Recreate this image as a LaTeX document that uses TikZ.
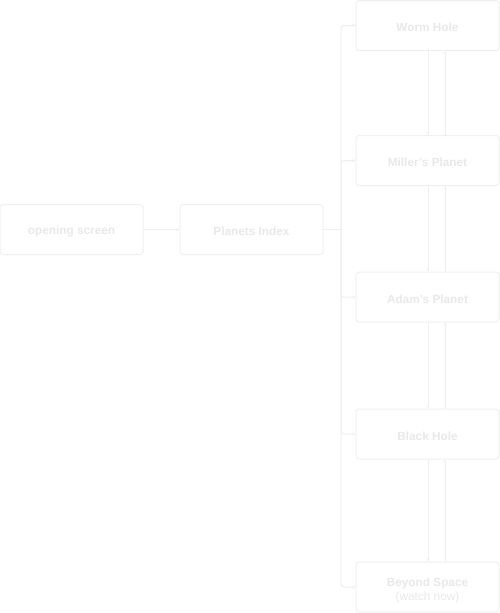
\documentclass[tikz,border=0pt]{standalone}
\usepackage{fontspec}
\setmainfont{Liberation Sans}
\usetikzlibrary{arrows.meta}
\definecolor{linec}{HTML}{EFEFEF}
\definecolor{textc}{HTML}{E8E8E8}
\begin{document}
\begin{tikzpicture}[x=1pt,y=-1pt,
  box/.style={draw=linec,line width=1pt,rounded corners=3pt,minimum width=143pt,minimum height=50pt,inner sep=0pt,align=center,text=textc,font=\fontsize{11.8pt}{14pt}\selectfont\bfseries},
  lbl/.style={inner sep=0pt,align=center,text=textc,font=\fontsize{11.8pt}{14pt}\selectfont\bfseries},
  conn/.style={draw=linec,line width=1pt,-{Stealth[length=3pt,width=3pt]}},
  bus/.style={conn,rounded corners=3pt}]
\useasboundingbox (0,0) rectangle (500,613);
\node[box] (open) at (71.5,229.5) {};
\node[box] (idx) at (251.5,229.5) {};
\node[box] (worm) at (427.5,25.5) {};
\node[box] (mill) at (427.5,160.5) {};
\node[box] (adam) at (427.5,297) {};
\node[box] (black) at (427.5,434) {};
\node[box] (beyond) at (427.5,587) {};
\node[lbl] (t1) at ([yshift=-2pt]open.center) {opening screen};
\node[lbl] (t2) at ([yshift=-2pt]idx.center) {Planets Index};
\node[lbl] (t3) at ([yshift=-2pt]worm.center) {Worm Hole};
\node[lbl] (t4) at ([yshift=-2pt]mill.center) {Miller's Planet};
\node[lbl] (t5) at ([yshift=-2pt]adam.center) {Adam's Planet};
\node[lbl] (t6) at ([yshift=-2pt]black.center) {Black Hole};
\node[lbl] (t7) at ([yshift=-3pt]beyond.center) {Beyond Space\\{\mdseries (watch now)}};
\coordinate (b) at (341,229.5);
\draw[conn] (open) -- (idx);
\draw[draw=linec,line width=1pt] (idx.east) -- (b);
\foreach \t in {worm,mill,adam,black,beyond}{
  \draw[bus] (b) |- (\t.west);
}
\foreach \a/\bb in {worm/mill,mill/adam,adam/black,black/beyond}{
  \draw[conn] ([xshift=0.5pt]\a.south) -- ([xshift=0.5pt]\bb.north);
  \draw[conn] ([xshift=17.5pt]\bb.north) -- ([xshift=17.5pt]\a.south);
}
\end{tikzpicture}
\end{document}
